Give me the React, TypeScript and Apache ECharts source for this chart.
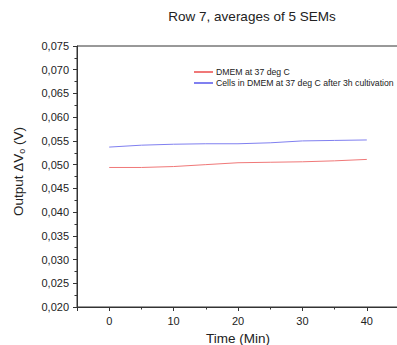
import React, { useEffect, useRef } from "react";
import * as echarts from "echarts";

const times = [0, 5, 10, 15, 20, 25, 30, 35, 40];
const dmem = [0.0494, 0.0494, 0.0496, 0.05, 0.0504, 0.0505, 0.0506, 0.0508, 0.0511];
const cells = [0.0537, 0.0541, 0.0543, 0.0544, 0.0544, 0.0546, 0.055, 0.0551, 0.0552];
const seriesNames = ["DMEM at 37 deg C", "Cells in DMEM at 37 deg C after 3h cultivation"];
const titleText = "Row 7, averages of 5 SEMs";

export default function App() {
  const ref = useRef<HTMLDivElement>(null);
  useEffect(() => {
    if (!ref.current) return;
    const chart = echarts.init(ref.current, null, { renderer: "svg" });
    const font = "Liberation Sans, Arial, sans-serif";
    const axisColor = "#333";
    chart.setOption({
      animation: false,
      backgroundColor: "#ffffff",
      textStyle: { fontFamily: font },
      title: {
        text: titleText,
        left: 252,
        textAlign: "center",
        top: 9,
        padding: 0,
        textStyle: { fontFamily: font, fontSize: 13.5, fontWeight: "normal", color: "#222" },
      },
      legend: {
        orient: "vertical",
        left: 193,
        top: 67,
        padding: 0,
        itemWidth: 19,
        itemHeight: 2,
        itemGap: 1,
        textStyle: {
          fontFamily: font,
          fontSize: 8.7,
          lineHeight: 10,
          color: "#222",
          padding: [0, 0, 0, -2],
        },
        data: seriesNames,
      },
      grid: {
        left: 77,
        top: 46,
        bottom: 38,
        right: -2,
        outerBoundsMode: "none",
        containLabel: false,
        show: true,
        borderColor: axisColor,
        borderWidth: 1,
        backgroundColor: "transparent",
      },
      xAxis: {
        type: "value",
        min: -5,
        max: 45,
        splitNumber: 5,
        name: "Time (Min)",
        nameLocation: "middle",
        nameGap: 24,
        nameTextStyle: { fontFamily: font, fontSize: 13.5, color: "#222" },
        axisLine: { show: true, onZero: false, lineStyle: { color: axisColor, width: 1 } },
        axisTick: { show: true, length: 4, lineStyle: { color: axisColor } },
        minorTick: { show: true, splitNumber: 2, length: 2.5, lineStyle: { color: axisColor } },
        axisLabel: {
          fontFamily: font,
          fontSize: 11,
          color: "#222",
          margin: 8,
          showMinLabel: false,
          showMaxLabel: false,
          formatter: (v: number) => (v >= 0 && v <= 40 && v % 10 === 0 ? String(v) : ""),
        },
        splitLine: { show: false },
      },
      yAxis: {
        type: "value",
        min: 0.02,
        max: 0.075,
        interval: 0.005,
        name: "Output ΔV{sub|o} (V)",
        nameLocation: "middle",
        nameGap: 51,
        nameRotate: 90,
        nameTextStyle: {
          fontFamily: font,
          fontSize: 13.5,
          color: "#222",
          padding: [0, 0, 0, 10],
          rich: { sub: { fontSize: 9, verticalAlign: "bottom", padding: [6, 0, 0, 0] } },
        },
        axisLine: { show: true, onZero: false, lineStyle: { color: axisColor, width: 1 } },
        axisTick: { show: true, length: 4, lineStyle: { color: axisColor } },
        minorTick: { show: true, splitNumber: 2, length: 2.5, lineStyle: { color: axisColor } },
        axisLabel: {
          fontFamily: font,
          fontSize: 11,
          color: "#222",
          margin: 8,
          formatter: (v: number) => v.toFixed(3).replace(".", ","),
        },
        splitLine: { show: false },
      },
      series: [
        {
          name: seriesNames[0],
          type: "line",
          data: times.map((t, i) => [t, dmem[i]]),
          symbol: "none",
          lineStyle: { color: "#f07878", width: 1 },
          itemStyle: { color: "#f07878" },
        },
        {
          name: seriesNames[1],
          type: "line",
          data: times.map((t, i) => [t, cells[i]]),
          symbol: "none",
          lineStyle: { color: "#8080f0", width: 1 },
          itemStyle: { color: "#8080f0" },
        },
      ],
    });
    return () => chart.dispose();
  }, []);
  return (
    <div
      ref={ref}
      style={{ position: "fixed", left: 0, top: 0, width: 397, height: 345 }}
    />
  );
}
